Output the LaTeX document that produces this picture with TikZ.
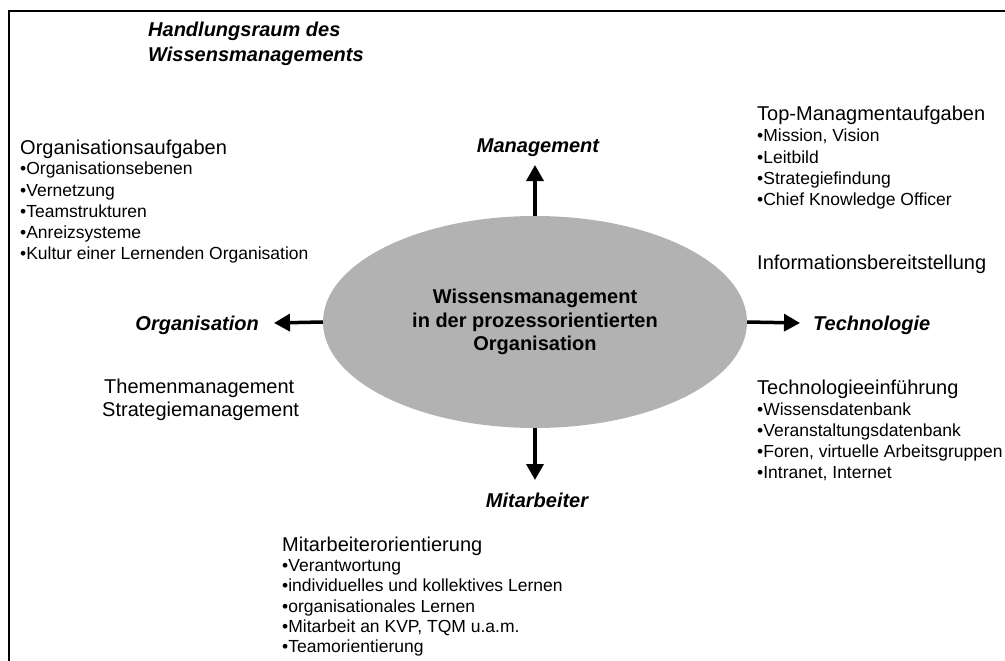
\documentclass[tikz,border=0pt]{standalone}
\usepackage{fontspec}
\setmainfont{Liberation Sans}
\usetikzlibrary{arrows.meta,shapes.geometric}

\definecolor{coregray}{HTML}{B2B2B2}

\tikzset{
  head/.style={anchor=base west, inner sep=0pt, font=\fontsize{20}{24}\selectfont},
  item/.style={anchor=base west, inner sep=0pt, font=\fontsize{17.5}{21}\selectfont},
  axislabel/.style={inner sep=0pt, font=\bfseries\itshape\fontsize{20}{24}\selectfont},
  arr/.style={line width=3.5pt, -{Triangle[length=16pt,width=17pt]}},
  frameline/.style={line width=2.5pt}
}

\begin{document}
\begin{tikzpicture}[x=1pt,y=-1pt]
\useasboundingbox (0,0) rectangle (1005,661);

% frame: top and left edges only
\draw[frameline] (1005,11) -- (9,11) -- (9,661);

% title
\node[axislabel, anchor=base west] (title1) at (148,37) {Handlungsraum des};
\node[axislabel, anchor=base west] (title2) at (148,62) {Wissensmanagements};

% central ellipse
\node[ellipse, fill=coregray, minimum width=424pt, minimum height=212pt,
      inner sep=0pt, align=center,
      font=\bfseries\fontsize{20}{23.5}\selectfont] (core) at (535,322)
  {Wissensmanagement\\in der prozessorientierten\\Organisation};

% arrow ends
\coordinate (tipN) at (535,165);
\coordinate (tipS) at (535,480);
\coordinate (tipW) at (274,323);
\coordinate (tipE) at (800,323);

\draw[arr] (core.north) -- (tipN);
\draw[arr] (core.south) -- (tipS);
\draw[arr] (core.west) -- (tipW);
\draw[arr] (core.east) -- (tipE);

% axis labels
\node[axislabel, anchor=base] (mgmt) at (538,153) {Management};
\node[axislabel, anchor=base] (staff) at (537,507) {Mitarbeiter};
\node[axislabel, anchor=base east] (orga) at (259,330) {Organisation};
\node[axislabel, anchor=base west] (tech) at (813,330) {Technologie};

% organisation tasks
\node[head] (oh) at (20,154) {Organisationsaufgaben};
\node[item] (o1) at (20,175) {•Organisationsebenen};
\node[item] (o2) at (20,196) {•Vernetzung};
\node[item] (o3) at (20,217) {•Teamstrukturen};
\node[item] (o4) at (20,238) {•Anreizsysteme};
\node[item] (o5) at (20,259) {•Kultur einer Lernenden Organisation};

% top management tasks
\node[head] (th) at (757,121) {Top-Managmentaufgaben};
\node[item] (t1) at (757,142) {•Mission, Vision};
\node[item] (t2) at (757,163) {•Leitbild};
\node[item] (t3) at (757,184) {•Strategiefindung};
\node[item] (t4) at (757,205) {•Chief Knowledge Officer};
\node[head] (info) at (757,269) {Informationsbereitstellung};

% topic and strategy management
\node[head] (topic) at (104,393) {Themenmanagement};
\node[head] (strat) at (102,416) {Strategiemanagement};

% technology introduction
\node[head] (eh) at (757,394) {Technologieeinführung};
\node[item] (e1) at (757,415) {•Wissensdatenbank};
\node[item] (e2) at (757,436) {•Veranstaltungsdatenbank};
\node[item] (e3) at (757,457) {•Foren, virtuelle Arbeitsgruppen};
\node[item] (e4) at (757,478) {•Intranet, Internet};

% staff orientation
\node[head] (mh) at (282,551) {Mitarbeiterorientierung};
\node[item] (m1) at (282,571) {•Verantwortung};
\node[item] (m2) at (282,591) {•individuelles und kollektives Lernen};
\node[item] (m3) at (282,612) {•organisationales Lernen};
\node[item] (m4) at (282,632) {•Mitarbeit an KVP, TQM u.a.m.};
\node[item] (m5) at (282,652) {•Teamorientierung};
\end{tikzpicture}
\end{document}
